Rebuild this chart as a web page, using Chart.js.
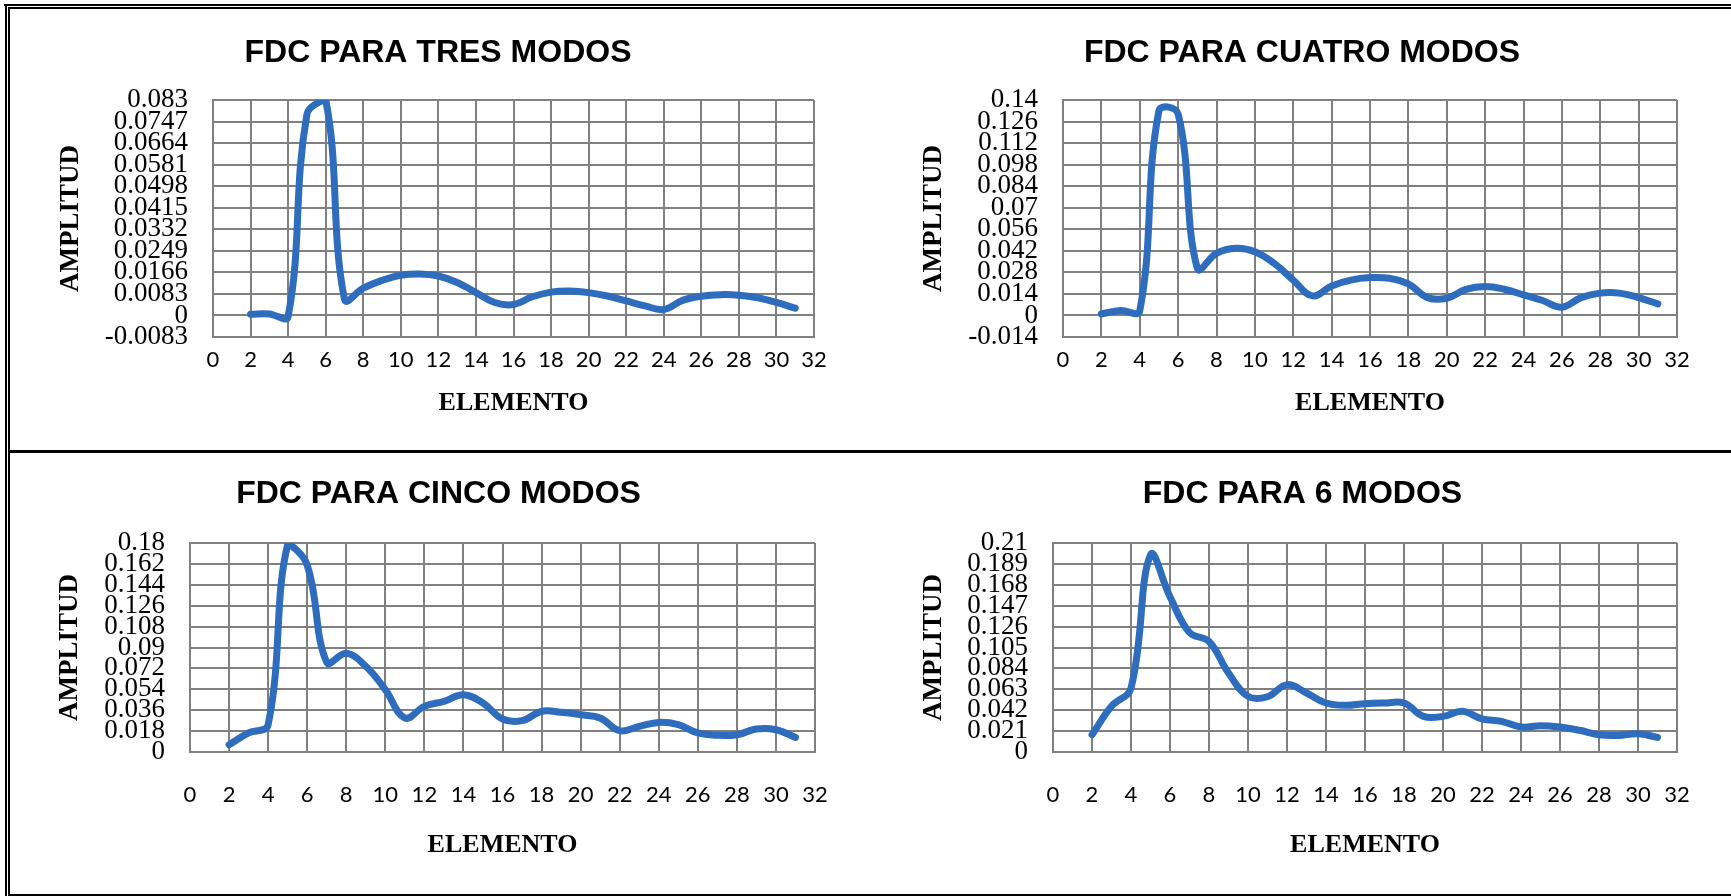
<!DOCTYPE html>
<html>
<head>
<meta charset="utf-8">
<title>FDC</title>
<script src="https://cdn.jsdelivr.net/npm/chart.js@4.4.1/dist/chart.umd.min.js"></script>
<style>
    body { margin: 0; width: 1731px; height: 896px; overflow: hidden; background: #fff; position: relative; }
    .linea { position: absolute; background: #000; }
    .panel { position: absolute; overflow: hidden; }
    .panel canvas { display: block; }
</style>
</head>
<body>
<!-- marco de la tabla -->
<div class="linea" style="left:4px; top:4px; width:1727px; height:2px;"></div>
<div class="linea" style="left:8px; top:7px; width:1723px; height:2px;"></div>
<div class="linea" style="left:5px; top:4px; width:2px; height:892px;"></div>
<div class="linea" style="left:8px; top:7px; width:2px; height:887px;"></div>
<div class="linea" style="left:8px; top:450px; width:1723px; height:3px;"></div>
<div class="linea" style="left:8px; top:894px; width:1723px; height:2px;"></div>

<div class="panel" style="left:10px; top:10px; width:856px; height:400px;"><canvas id="g1" width="856" height="409"></canvas></div>
<div class="panel" style="left:866px; top:10px; width:865px; height:400px;"><canvas id="g2" width="865" height="409"></canvas></div>
<div class="panel" style="left:10px; top:454px; width:856px; height:398px;"><canvas id="g3" width="856" height="407"></canvas></div>
<div class="panel" style="left:866px; top:454px; width:865px; height:398px;"><canvas id="g4" width="865" height="407"></canvas></div>

<script>
// Elementos del arreglo (eje X) y marcas de los ejes
const elementos = [2, 3, 4, 5, 6, 7, 8, 9, 10, 11, 12, 13, 14, 15, 16, 17, 18, 19, 20, 21, 22, 23, 24, 25, 26, 27, 28, 29, 30, 31];
const ticksX = [0, 2, 4, 6, 8, 10, 12, 14, 16, 18, 20, 22, 24, 26, 28, 30, 32];

const ticksTres = [-0.0083, 0, 0.0083, 0.0166, 0.0249, 0.0332, 0.0415, 0.0498, 0.0581, 0.0664, 0.0747, 0.083];
const ticksCuatro = [-0.014, 0, 0.014, 0.028, 0.042, 0.056, 0.07, 0.084, 0.098, 0.112, 0.126, 0.14];
const ticksCinco = [0, 0.018, 0.036, 0.054, 0.072, 0.09, 0.108, 0.126, 0.144, 0.162, 0.18];
const ticksSeis = [0, 0.021, 0.042, 0.063, 0.084, 0.105, 0.126, 0.147, 0.168, 0.189, 0.21];

// Amplitud de la FDC
const fdcTres = [0.0005, 0.0006, -0.0004, 0.0775, 0.083, 0.0062, 0.0105, 0.0135, 0.0155, 0.016, 0.0152, 0.0127, 0.0088, 0.005, 0.0042,
    0.0072, 0.009, 0.0094, 0.0088, 0.0075, 0.0056, 0.0037, 0.0023, 0.0058, 0.0074, 0.008, 0.0078, 0.0068, 0.005, 0.0028];
const fdcCuatro = [0.001, 0.0032, 0.003, 0.133, 0.131, 0.0306, 0.0403, 0.0436, 0.0414, 0.0339, 0.023, 0.0127, 0.0192, 0.023, 0.0246,
    0.0242, 0.0205, 0.0116, 0.0112, 0.017, 0.0188, 0.017, 0.0134, 0.0097, 0.0054, 0.0116, 0.0145, 0.0145, 0.0116, 0.0075];
const fdcCinco = [0.0063, 0.0164, 0.0235, 0.1786, 0.161, 0.0772, 0.085, 0.0738, 0.0537, 0.0293, 0.0393, 0.0436, 0.0494, 0.0422, 0.0284,
    0.027, 0.035, 0.0342, 0.0321, 0.0293, 0.0184, 0.0221, 0.0255, 0.0235, 0.0164, 0.0144, 0.0149, 0.0198, 0.0192, 0.0126];
const fdcSeis = [0.0174, 0.0459, 0.0643, 0.198, 0.156, 0.12, 0.111, 0.0794, 0.0559, 0.0555, 0.0677, 0.0593, 0.0492, 0.0469, 0.0486,
    0.0492, 0.0492, 0.0358, 0.0358, 0.0409, 0.0332, 0.0308, 0.0251, 0.0265, 0.0251, 0.0218, 0.0174, 0.0167, 0.0184, 0.0147];

const gris = '#808080';
const azul = '#2E6CBE';

function crearGrafica(id, titulo, valores, ticksY, g) {
    return new Chart(document.getElementById(id), {
        type: 'line',
        data: {
            datasets: [{
                data: elementos.map(function (x, i) { return { x: x, y: valores[i] }; }),
                borderColor: azul,
                borderWidth: 7,
                borderCapStyle: 'round',
                borderJoinStyle: 'round',
                pointRadius: 0,
                tension: 0.4,
                fill: false
            }]
        },
        options: {
            responsive: false,
            animation: false,
            devicePixelRatio: 1,
            layout: { padding: { left: g.pl, right: g.pr, top: 0, bottom: 0 } },
            plugins: {
                legend: { display: false },
                tooltip: { enabled: false },
                title: {
                    display: true,
                    text: titulo,
                    color: '#000',
                    font: { family: '"Liberation Sans", Arial, sans-serif', size: 32, weight: 'bold', lineHeight: 1.2 },
                    padding: { top: g.tt, bottom: g.tb }
                }
            },
            scales: {
                x: {
                    type: 'linear',
                    min: 0,
                    max: 32,
                    afterBuildTicks: function (axis) { axis.ticks = ticksX.map(function (v) { return { value: v }; }); },
                    afterFit: function (axis) { axis.height = g.altoX; },
                    grid: { color: gris, lineWidth: 2, drawTicks: false },
                    border: { color: gris, width: 2 },
                    ticks: {
                        autoSkip: false, maxRotation: 0, padding: g.px, color: '#000',
                        font: { family: 'Lato', size: 22, lineHeight: 1.2 }
                    },
                    title: {
                        display: true, text: 'ELEMENTO', color: '#000',
                        font: { family: '"Liberation Serif", serif', size: 26, weight: 'bold', lineHeight: 1.2 },
                        padding: { top: 0, bottom: 0 }
                    }
                },
                y: {
                    min: ticksY[0],
                    max: ticksY[ticksY.length - 1],
                    afterBuildTicks: function (axis) { axis.ticks = ticksY.map(function (v) { return { value: v }; }); },
                    afterFit: function (axis) { axis.width = g.anchoY; },
                    grid: { color: gris, lineWidth: 2, drawTicks: false },
                    border: { color: gris, width: 2 },
                    ticks: {
                        autoSkip: false, padding: 25, color: '#000',
                        font: { family: '"Liberation Serif", serif', size: 27, lineHeight: 1 },
                        callback: function (v) { return String(v); }
                    },
                    title: {
                        display: true, text: 'AMPLITUD', color: '#000',
                        font: { family: '"Liberation Serif", serif', size: 27, weight: 'bold', lineHeight: 1 },
                        padding: { top: g.pty, bottom: 0 }
                    }
                }
            }
        }
    });
}

window.onload = function () {
    crearGrafica('g1', 'FDC PARA TRES MODOS', fdcTres, ticksTres,
        { pl: 52, pr: 52, tt: 24.1, tb: 27.5, anchoY: 151, altoX: 82, px: 9.3, pty: -4.5 });
    crearGrafica('g2', 'FDC PARA CUATRO MODOS', fdcCuatro, ticksCuatro,
        { pl: 61, pr: 54, tt: 24.1, tb: 27.5, anchoY: 136, altoX: 82, px: 9.3, pty: -6.5 });
    crearGrafica('g3', 'FDC PARA CINCO MODOS', fdcCinco, ticksCinco,
        { pl: 52, pr: 51, tt: 21.1, tb: 29.5, anchoY: 128, altoX: 109, px: 29.8, pty: -5 });
    crearGrafica('g4', 'FDC PARA 6 MODOS', fdcSeis, ticksSeis,
        { pl: 62, pr: 54, tt: 21.1, tb: 29.5, anchoY: 125, altoX: 109, px: 29.8, pty: -7.5 });
};
</script>
</body>
</html>
